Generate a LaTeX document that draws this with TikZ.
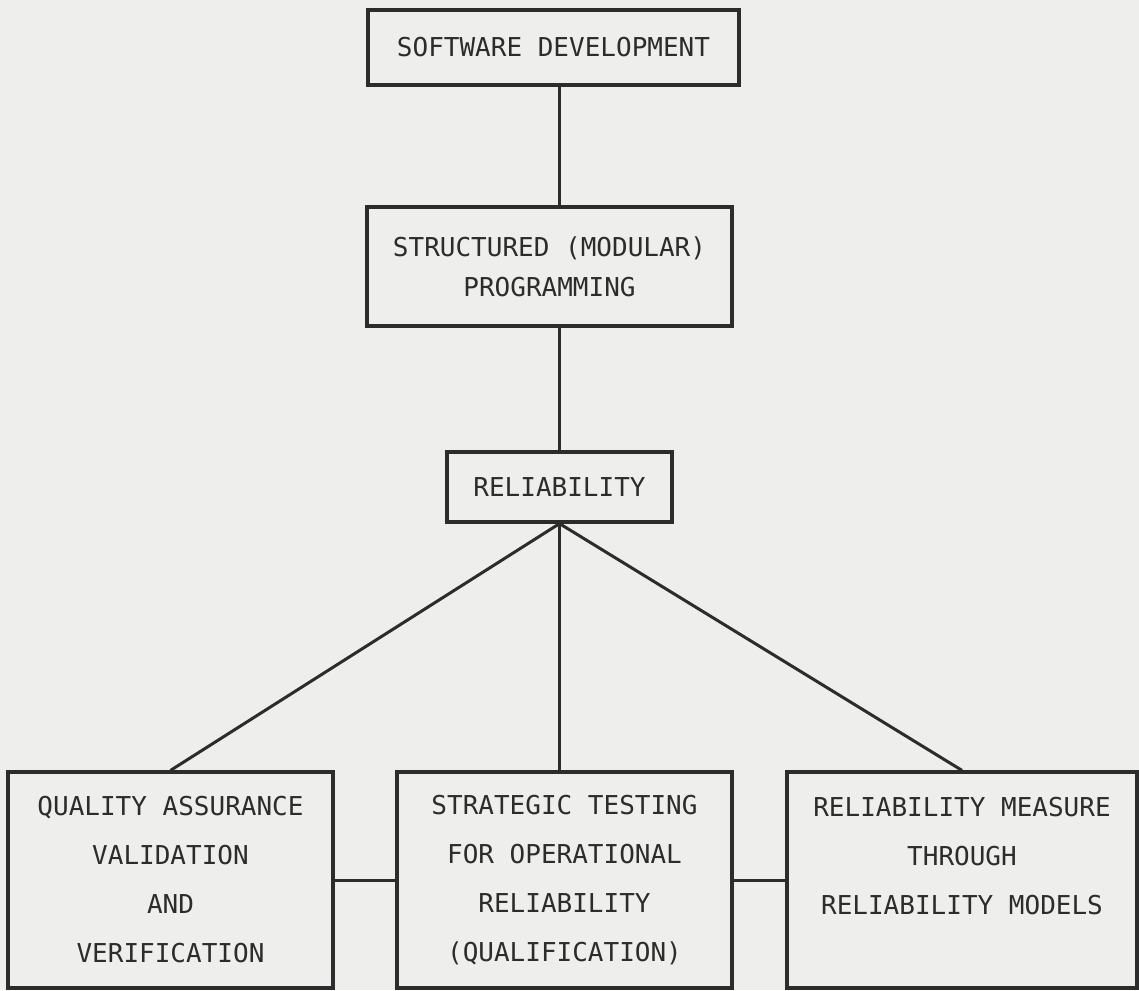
\documentclass[tikz,border=0pt]{standalone}
\usepackage{fontspec}
\setmonofont{DejaVu Sans Mono}
\definecolor{ink}{RGB}{44,44,44}
\definecolor{paper}{RGB}{238,238,236}
\begin{document}
\begin{tikzpicture}[x=1pt,y=-1pt,
  box/.style={draw=ink, line width=3.2pt, fill=paper, inner sep=0pt, align=center,
    text=ink, font=\ttfamily\fontsize{26}{49}\selectfont},
  tight/.style={font=\ttfamily\fontsize{26}{40}\selectfont},
  link/.style={draw=ink, line width=3pt}]
\fill[paper] (0,0) rectangle (1139,990);
\useasboundingbox (0,0) rectangle (1139,990);

\node[box, minimum width=371pt, minimum height=75pt] (b1) at (553.5,47.5) {SOFTWARE DEVELOPMENT};
\node[box, tight, minimum width=365pt, minimum height=119pt] (b2) at (549.5,266.5) {STRUCTURED (MODULAR)\\PROGRAMMING};
\node[box, minimum width=225pt, minimum height=70pt] (b3) at (559.5,487) {RELIABILITY};
\node[box, minimum width=325pt, minimum height=216pt] (b4) at (170.5,880) {QUALITY ASSURANCE\\VALIDATION\\AND\\VERIFICATION};
\node[box, minimum width=335pt, minimum height=216pt] (b5) at (564.5,880) {STRATEGIC TESTING\\FOR OPERATIONAL\\RELIABILITY\\(QUALIFICATION)};
\node[box, minimum width=350pt, minimum height=216pt] (b6) at (962,880) {RELIABILITY MEASURE\\THROUGH\\RELIABILITY MODELS\\\mbox{}};

\draw[link] (b1.south -| b3.north) -- (b2.north -| b3.north);
\draw[link] (b2.south -| b3.north) -- (b3.north);
\draw[link] (b3.south) -- (b4.north);
\draw[link] (b3.south) -- (b3.south |- b5.north);
\draw[link] (b3.south) -- (b6.north);
\draw[link] (b4.east) -- (b5.west);
\draw[link] (b5.east) -- (b6.west);
\end{tikzpicture}
\end{document}
